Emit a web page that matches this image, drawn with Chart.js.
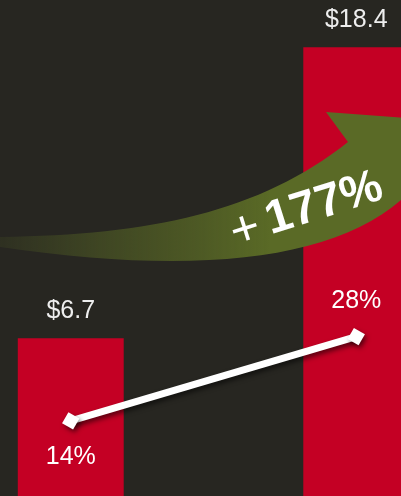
<!DOCTYPE html>
<html>
<head>
<meta charset="utf-8">
<script src="https://cdn.jsdelivr.net/npm/chart.js@4"></script>
<style>
    html, body { margin: 0; padding: 0; width: 401px; height: 496px; overflow: hidden; background: #272621; }
    /* the chart is a crop of a wider slide, so the canvas hangs past the window */
    #wrap { position: absolute; left: -72px; top: 0; width: 571px; height: 505px; }
</style>
</head>
<body>
<div id="wrap"><canvas id="growthChart" width="571" height="505"></canvas></div>
<script>
// Chart data
const categories = ['Before', 'After'];
const revenue = [6.7, 18.4];
const margin = [14, 28];
const revenueLabels = ['$6.7', '$18.4'];
const marginLabels = ['14%', '28%'];
const growthSign = '+';
const growthLabel = '177%';

const SHIFT = 72; // canvas x offset from the visible window

// Green growth arrow, drawn just before the line so it sits over the bars
function drawArrow(ctx) {
    ctx.save();
    ctx.translate(SHIFT, 0);
    const grad = ctx.createLinearGradient(0, 0, 270, 0);
    grad.addColorStop(0, 'rgba(90,106,38,0.15)');
    grad.addColorStop(0.37, 'rgba(90,106,38,0.47)');
    grad.addColorStop(0.74, 'rgba(90,106,38,0.76)');
    grad.addColorStop(1, 'rgba(90,106,38,1)');
    ctx.fillStyle = grad;
    ctx.beginPath();
    ctx.moveTo(0, 237);
    ctx.bezierCurveTo(150, 235, 260, 212, 348, 142);
    ctx.lineTo(326, 112);
    ctx.lineTo(460, 122);
    ctx.lineTo(430, 190);
    ctx.lineTo(401, 200);
    ctx.bezierCurveTo(330, 262, 190, 275, 0, 247);
    ctx.closePath();
    ctx.fill();

    // "+ 177%" along the arrow
    ctx.translate(245, 229);
    ctx.rotate(-17.5 * Math.PI / 180);
    ctx.fillStyle = '#ffffff';
    ctx.textBaseline = 'middle';
    ctx.textAlign = 'center';
    ctx.font = '50px "Liberation Sans", Arial, sans-serif';
    ctx.fillText(growthSign, 0, 2);
    ctx.textAlign = 'left';
    ctx.font = 'bold 47px "Liberation Sans", Arial, sans-serif';
    ctx.fillText(growthLabel, 23, 0);
    ctx.restore();
}

const decorPlugin = {
    id: 'decor',
    beforeDatasetDraw(chart, args) {
        if (args.meta.type === 'line') {
            drawArrow(chart.ctx);
            chart.ctx.save();
            chart.ctx.shadowColor = 'rgba(0,0,0,0.55)';
            chart.ctx.shadowBlur = 5;
            chart.ctx.shadowOffsetX = 2;
            chart.ctx.shadowOffsetY = 3;
        }
    },
    afterDatasetDraw(chart, args) {
        if (args.meta.type === 'line') {
            chart.ctx.restore();
        }
    },
    afterDatasetsDraw(chart) {
        const ctx = chart.ctx;
        ctx.save();
        ctx.font = '25px "Liberation Sans", Arial, sans-serif';
        ctx.textAlign = 'center';
        ctx.textBaseline = 'middle';

        // value labels above the bars
        ctx.fillStyle = '#eeeeee';
        chart.getDatasetMeta(1).data.forEach(function (bar, i) {
            ctx.fillText(revenueLabels[i], bar.x, bar.y - 27);
        });

        // margin labels: first below the point, second above
        ctx.fillStyle = '#ffffff';
        chart.getDatasetMeta(0).data.forEach(function (pt, i) {
            const dy = i === 0 ? 36 : -36;
            ctx.fillText(marginLabels[i], pt.x, pt.y + dy);
        });
        ctx.restore();
    }
};

new Chart(document.getElementById('growthChart').getContext('2d'), {
    data: {
        labels: categories,
        datasets: [
            {
                type: 'line',
                label: 'Margin (%)',
                data: margin,
                yAxisID: 'y2',
                borderColor: '#ffffff',
                borderWidth: 7,
                pointStyle: 'rectRot',
                pointRadius: 9,
                pointRotation: -15,
                pointBackgroundColor: '#ffffff',
                pointBorderWidth: 0,
                order: 0
            },
            {
                type: 'bar',
                label: 'Revenue ($)',
                data: revenue,
                yAxisID: 'y',
                backgroundColor: '#c40024',
                categoryPercentage: 1,
                barPercentage: 0.371,
                order: 1
            }
        ]
    },
    options: {
        responsive: false,
        animation: false,
        devicePixelRatio: 1,
        layout: { padding: 0, autoPadding: false },
        plugins: {
            legend: { display: false },
            tooltip: { enabled: false }
        },
        scales: {
            x: { display: false, offset: true },
            y: { display: false, min: 0, max: 20.3 },
            y2: { display: false, min: 0, max: 84 }
        }
    },
    plugins: [decorPlugin]
});
</script>
</body>
</html>
